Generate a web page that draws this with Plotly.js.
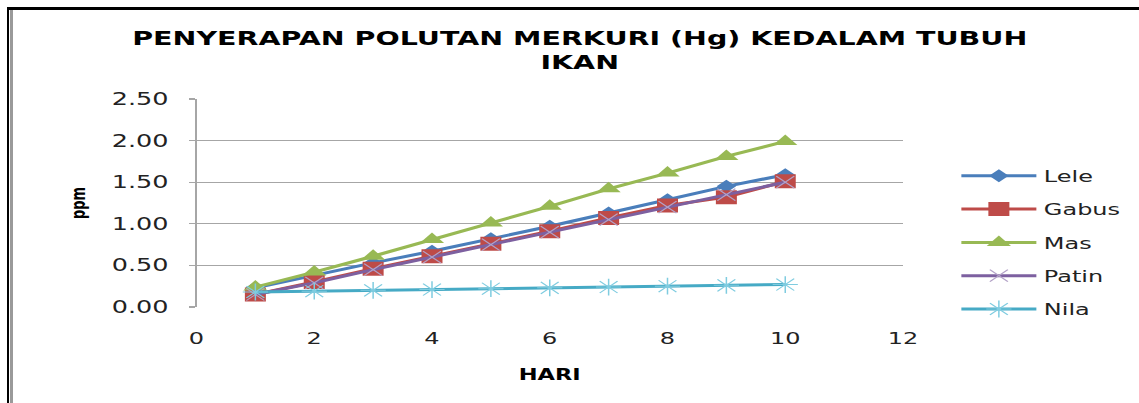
<!DOCTYPE html>
<html>
<head>
<meta charset="utf-8">
<script src="https://cdn.plot.ly/plotly-3.0.1.min.js"></script>
<style>
  html, body { margin: 0; padding: 0; background: #fff; }
  #wrap { position: relative; width: 1139px; height: 403px; overflow: hidden; background: #fff; }
  #chart { position: absolute; left: 0; top: 0; width: 759.333px; height: 403px;
           transform: scaleX(1.5); transform-origin: 0 0; }
  .frame { position: absolute; }
</style>
</head>
<body>
<div id="wrap">
  <div id="chart"></div>
  <div class="frame" style="left:7px;top:7px;width:1132px;height:2.5px;background:#000;"></div>
  <div class="frame" style="left:7px;top:7px;width:2.3px;height:396px;background:#000;"></div>
  <div class="frame" style="left:10px;top:10px;width:2.5px;height:393px;background:#9a9a9a;"></div>
</div>
<script>
const hari = [1, 2, 3, 4, 5, 6, 7, 8, 9, 10];
const lele  = [0.23, 0.38, 0.53, 0.67, 0.82, 0.97, 1.13, 1.29, 1.45, 1.59];
const gabus = [0.15, 0.30, 0.46, 0.61, 0.76, 0.91, 1.07, 1.22, 1.32, 1.51];
const mas   = [0.24, 0.42, 0.61, 0.81, 1.01, 1.21, 1.42, 1.61, 1.81, 1.99];
const patin = [0.15, 0.29, 0.45, 0.60, 0.75, 0.90, 1.05, 1.20, 1.35, 1.50];
const nila  = [0.18, 0.19, 0.20, 0.21, 0.22, 0.23, 0.24, 0.25, 0.26, 0.27];
const seriesNames = ['Lele', 'Gabus', 'Mas', 'Patin', 'Nila'];
const yTickVals = [0, 0.5, 1.0, 1.5, 2.0, 2.5];
const xTickVals = [0, 2, 4, 6, 8, 10, 12];
const chartTitle = 'PENYERAPAN POLUTAN MERKURI (Hg) KEDALAM TUBUH<br>IKAN';
const xTitle = 'HARI';
const yTitle = 'ppm';

const styles = [
  {line: '#4A7EBB', marker: {symbol: 'diamond', size: 10, color: '#4A7EBB'}},
  {line: '#BE4B48', marker: {symbol: 'square', size: 14, color: '#BE4B48'}},
  {line: '#98B954', marker: {symbol: 'triangle-up', size: 14, color: '#98B954'}},
  {line: '#7D60A0', marker: {symbol: 'x-thin-open', size: 12, color: '#B3A2C7', line: {color: '#B3A2C7', width: 1}}},
  {line: '#46AAC5', marker: {symbol: 'asterisk-open', size: 14, color: '#7FCCE0', line: {color: '#7FCCE0', width: 1}}}
];
const values = [lele, gabus, mas, patin, nila];

const traces = values.map((v, i) => ({
  x: hari, y: v, name: seriesNames[i], type: 'scatter', mode: 'lines+markers',
  legendgroup: 'g' + i,
  line: {color: styles[i].line, width: 3},
  marker: styles[i].marker
}));

const layout = {
  width: 759.333, height: 403,
  margin: {l: 131.3, r: 156.7, t: 99, b: 96, autoexpand: false},
  paper_bgcolor: 'rgba(0,0,0,0)', plot_bgcolor: '#fff',
  showlegend: true,
  title: {
    text: chartTitle, x: 0.509, xref: 'container', xanchor: 'center',
    y: 0.889, yref: 'container', yanchor: 'middle',
    font: {family: 'DejaVu Sans', size: 19, color: '#000', weight: 'bold'}
  },
  xaxis: {
    range: [0, 12], tickvals: xTickVals, ticktext: xTickVals.map(String),
    showgrid: false, zeroline: false, showline: false, ticks: '',
    ticklabelstandoff: 20,
    tickfont: {family: 'DejaVu Sans', size: 16, color: '#222'},
    title: {text: xTitle, standoff: 22, font: {family: 'DejaVu Sans', size: 15, color: '#000', weight: 'bold'}},
    fixedrange: true
  },
  yaxis: {
    range: [0, 2.5], tickvals: yTickVals, ticktext: yTickVals.map(v => v.toFixed(2)),
    showgrid: true, gridcolor: '#A6A6A6', gridwidth: 1.3,
    zeroline: false, showline: true, linecolor: '#A6A6A6', linewidth: 1.3,
    ticks: 'outside', ticklen: 4, tickcolor: '#A6A6A6', tickwidth: 1.3,
    ticklabelstandoff: 10,
    tickfont: {family: 'DejaVu Sans', size: 17, color: '#222'},
    title: {text: yTitle, standoff: 14, font: {family: 'DejaVu Sans', size: 13, color: '#000', weight: 'bold'}},
    fixedrange: true
  },
  legend: {
    x: 1.072, xanchor: 'left', y: 0.712, yanchor: 'top',
    font: {family: 'DejaVu Sans', size: 16, color: '#222'},
    bgcolor: 'rgba(0,0,0,0)', borderwidth: 0,
    tracegroupgap: 9.5, itemwidth: 50, traceorder: 'grouped'
  }
};

Plotly.newPlot('chart', traces, layout, {displayModeBar: false, staticPlot: true});
</script>
</body>
</html>
